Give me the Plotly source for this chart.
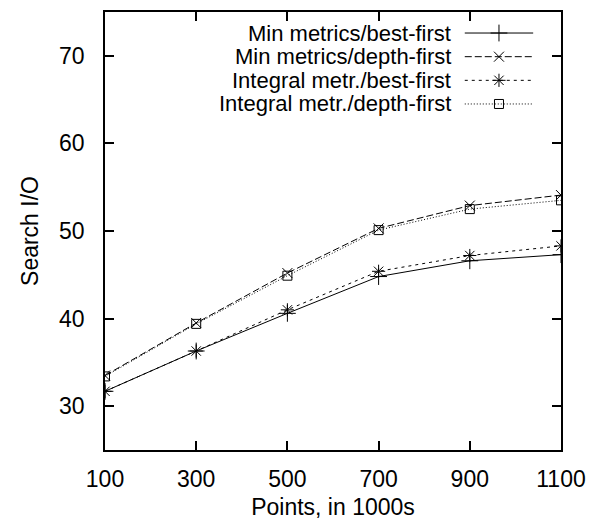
import plotly.graph_objects as go

points = [100, 300, 500, 700, 900, 1100]
min_best = [31.7, 36.3, 40.6, 44.8, 46.6, 47.3]
min_depth = [33.5, 39.5, 45.2, 50.3, 52.9, 54.1]
int_best = [31.7, 36.3, 41.0, 45.4, 47.2, 48.3]
int_depth = [33.4, 39.4, 44.9, 50.1, 52.5, 53.5]

series_names = ["Min metrics/best-first", "Min metrics/depth-first",
                "Integral metr./best-first", "Integral metr./depth-first"]
series_values = [min_best, min_depth, int_best, int_depth]
dashes = ["solid", "7px,3px", "3px,4px", "1px,2px"]
symbols = ["cross-thin", "x-thin", "asterisk", "square-open"]
msizes = [12, 10, 11, 9]

x_ticks = [100, 300, 500, 700, 900, 1100]
y_ticks = [30, 40, 50, 60, 70]

FONT = "Liberation Sans, Arial, sans-serif"
FS = 23

fig = go.Figure()
for name, vals, dash, sym, ms in zip(series_names, series_values, dashes, symbols, msizes):
    fig.add_trace(go.Scatter(
        x=points, y=vals, mode="lines+markers", name=name,
        line=dict(color="black", width=1, dash=dash),
        marker=dict(symbol=sym, size=ms, color="black",
                    line=dict(color="black", width=1)),
        showlegend=False, xaxis="x", yaxis="y"))

# hand-made legend (text left, sample right) on an overlay axis 0..1
leg_x0, leg_xm, leg_x1 = 0.789, 0.864, 0.939
leg_rows = [0.952, 0.898, 0.844, 0.790]
for name, dash, sym, ms, yr in zip(series_names, dashes, symbols, msizes, leg_rows):
    fig.add_trace(go.Scatter(
        x=[leg_x0, leg_x1], y=[yr, yr], mode="lines",
        line=dict(color="black", width=1, dash=dash),
        showlegend=False, xaxis="x2", yaxis="y2", hoverinfo="skip"))
    fig.add_trace(go.Scatter(
        x=[leg_xm], y=[yr], mode="markers",
        marker=dict(symbol=sym, size=ms, color="black",
                    line=dict(color="black", width=1)),
        showlegend=False, xaxis="x2", yaxis="y2", hoverinfo="skip"))
    fig.add_annotation(x=0.760, y=yr, xref="paper", yref="paper",
                       text=name, showarrow=False, xanchor="right",
                       yanchor="middle", borderpad=0,
                       font=dict(family=FONT, size=22, color="black"))

axis_common = dict(showgrid=False, zeroline=False, showline=True,
                   linecolor="black", linewidth=1.5, mirror="ticks",
                   ticks="inside", ticklen=9, tickwidth=1.5, tickcolor="black",
                   automargin=False,
                   tickfont=dict(family=FONT, size=FS, color="black"))

fig.update_layout(
    width=593, height=520,
    margin=dict(l=105, r=32, t=12, b=70),
    paper_bgcolor="white", plot_bgcolor="white",
    xaxis=dict(range=[100, 1100], tickvals=x_ticks,
               ticktext=[str(v) for v in x_ticks],
               ticklabelstandoff=8,
               title=dict(text="Points, in 1000s", standoff=12,
                          font=dict(family=FONT, size=FS, color="black")),
               **axis_common),
    yaxis=dict(range=[25, 75], tickvals=y_ticks,
               ticktext=[str(v) for v in y_ticks],
               ticklabelstandoff=14,
               title=dict(text="Search I/O", standoff=14,
                          font=dict(family=FONT, size=FS, color="black")),
               **axis_common),
    xaxis2=dict(range=[0, 1], overlaying="x", visible=False, fixedrange=True),
    yaxis2=dict(range=[0, 1], overlaying="y", visible=False, fixedrange=True),
)

fig.write_html("out.html", config={"displayModeBar": False},
               post_script="document.body.style.margin='0';document.body.style.overflow='hidden';")
